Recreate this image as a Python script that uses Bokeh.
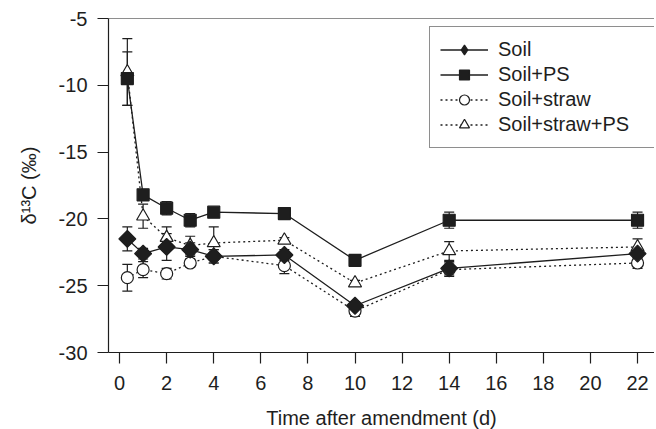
import numpy as np
from bokeh.plotting import figure
from bokeh.models import (ColumnDataSource, Whisker, TeeHead, Range1d, FixedTicker,
                          Span, Legend, LegendItem, CustomJSTickFormatter)
from bokeh.embed import file_html
from bokeh.resources import INLINE

# ---- data ----
days = [0.33, 1, 2, 3, 4, 7, 10, 14, 22]

soil = [-21.5, -22.6, -22.1, -22.3, -22.8, -22.7, -26.5, -23.7, -22.6]
soil_err = [0.9, 0.4, 1.0, 0.5, 0.5, 0.4, 0.3, 0.5, 0.4]

soil_ps = [-9.5, -18.2, -19.2, -20.1, -19.5, -19.6, -23.1, -20.1, -20.1]
soil_ps_err = [2.0, 0.4, 0.5, 0.5, 0.3, 0.2, 0.2, 0.6, 0.6]

soil_straw = [-24.4, -23.8, -24.1, -23.3, -22.8, -23.5, -26.9, -23.8, -23.3]
soil_straw_err = [1.0, 0.6, 0.4, 0.3, 0.5, 0.6, 0.4, 0.5, 0.4]

soil_straw_ps = [-9.0, -19.8, -21.4, -22.0, -21.8, -21.6, -24.8, -22.4, -22.1]
soil_straw_ps_err = [2.5, 0.9, 0.8, 0.7, 1.2, 0.2, 0.2, 0.7, 0.6]

x_ticks = list(range(0, 23, 2))
y_ticks = [-30, -25, -20, -15, -10, -5]

INK = "#1e1e1e"
FONT = "Liberation Sans"

p = figure(frame_width=546, frame_height=334, output_backend="svg", toolbar_location=None,
           x_range=Range1d(-0.47, 22.72), y_range=Range1d(-30, -5),
           min_border_left=108, min_border_right=0, min_border_top=18, min_border_bottom=77)
p.outline_line_color = None
p.xgrid.visible = False
p.ygrid.visible = False
p.background_fill_color = "white"

for ax in (p.xaxis[0], p.yaxis[0]):
    ax.axis_line_color = INK
    ax.axis_line_width = 1.2
    ax.major_tick_line_color = INK
    ax.major_tick_line_width = 1.2
    ax.minor_tick_line_color = None
    ax.major_tick_in = 0
    ax.major_label_text_font = FONT
    ax.major_label_text_font_size = "20px"
    ax.major_label_text_color = INK
    ax.axis_label_text_font = FONT
    ax.axis_label_text_font_size = "20px"
    ax.axis_label_text_font_style = "normal"
    ax.axis_label_text_color = INK
    ax.formatter = CustomJSTickFormatter(code="return tick.toString();")

p.xaxis.ticker = FixedTicker(ticks=x_ticks)
p.yaxis.ticker = FixedTicker(ticks=y_ticks)
p.xaxis.major_tick_out = 11
p.yaxis.major_tick_out = 11
p.xaxis.major_label_standoff = 12
p.yaxis.major_label_standoff = 10
p.xaxis.axis_label = "Time after amendment (d)"
p.yaxis.axis_label = "δ¹³C (‰)"
p.xaxis.axis_label_standoff = 14
p.yaxis.axis_label_standoff = 16

# top border line
p.add_layout(Span(location=-5, dimension="width", line_color=INK, line_width=1.2))

series = [
    ("Soil+straw", soil_straw, soil_straw_err, "circle", 12, "white", "2 3", 0),
    ("Soil+straw+PS", soil_straw_ps, soil_straw_ps_err, "triangle", 13, "white", "2 3", 0),
    ("Soil", soil, soil_err, "square", 12, INK, "solid", np.pi / 4),
    ("Soil+PS", soil_ps, soil_ps_err, "square", 12, INK, "solid", 0),
]

items = {}
sources = []
for name, vals, err, marker, size, fill, dash, angle in series:
    src = ColumnDataSource(dict(x=days, y=vals,
                                lo=[v - e for v, e in zip(vals, err)],
                                hi=[v + e for v, e in zip(vals, err)]))
    sources.append(src)
    ln = p.line("x", "y", source=src, line_color=INK, line_width=1.3, line_dash=dash)
    if name == "Soil":
        # diamond glyph (sits fully under the rotated square); used for the legend,
        # since legend glyphs are drawn unrotated
        dm = p.scatter("x", "y", source=src, marker="diamond", size=11,
                       fill_color=INK, line_color=INK, line_width=1.2)
    sc = p.scatter("x", "y", source=src, marker=marker, size=size, angle=angle,
                   fill_color=fill, line_color=INK, line_width=1.2)
    items[name] = [ln, dm if name == "Soil" else sc]

for src in sources:
    w = Whisker(source=src, base="x", lower="lo", upper="hi", line_color=INK, line_width=1.2,
                upper_head=TeeHead(size=10, line_color=INK, line_width=1.2),
                lower_head=TeeHead(size=10, line_color=INK, line_width=1.2))
    p.add_layout(w)

legend = Legend(items=[LegendItem(label=n, renderers=items[n])
                       for n in ["Soil", "Soil+PS", "Soil+straw", "Soil+straw+PS"]],
                location=(321, 204), margin=0, padding=10, spacing=0,
                glyph_width=48, glyph_height=25, label_height=20, label_width=152,
                label_standoff=10, label_text_font=FONT, label_text_font_size="20px",
                label_text_color=INK, border_line_color=INK, border_line_width=1,
                background_fill_color="white", background_fill_alpha=1.0)
p.add_layout(legend)

open("out.html", "w").write(file_html(p, INLINE))
